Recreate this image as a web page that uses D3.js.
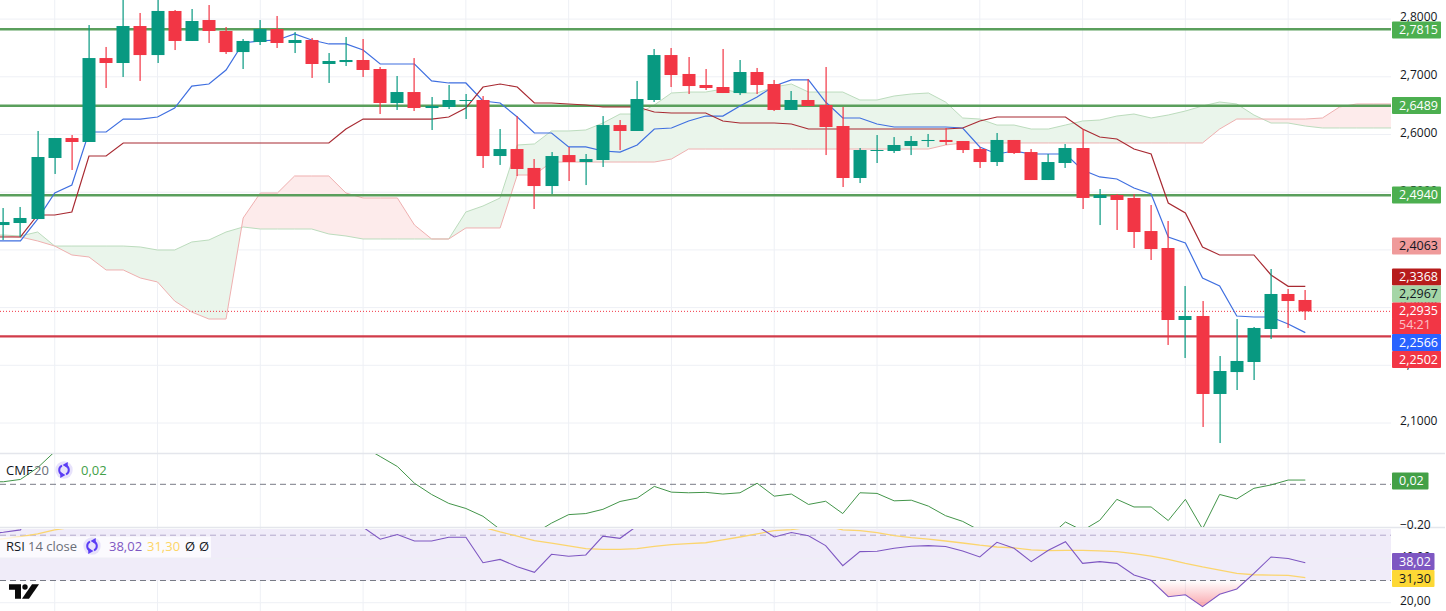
<!DOCTYPE html>
<html>
<head>
<meta charset="utf-8">
<script src="https://d3js.org/d3.v7.min.js"></script>
<style>
  html, body { margin: 0; padding: 0; background: #fff; overflow: hidden; }
  svg { display: block; }
  text { font-family: "Open Sans", sans-serif; }
  .axis text { font-size: 12px; fill: #131722; }
  .axis .domain { display: none; }
  .tag text { font-size: 12.5px; font-weight: 500; }
  .legend text { font-size: 13px; }
</style>
</head>
<body>
<div id="chart"></div>
<script>
// hourly candles, first bar is just off the left edge
var open = [2.4396,
  2.4431, 2.4466, 2.4535, 2.5593, 2.5939, 2.5870, 2.7325, 2.7239, 2.7880, 2.7377,
  2.8141, 2.7621, 2.7984, 2.7794, 2.7429, 2.7603, 2.7828, 2.7586, 2.7638, 2.7222,
  2.7256, 2.7291, 2.7135, 2.6546, 2.6736, 2.6459, 2.6477, 2.6581, 2.6598, 2.5627,
  2.5748, 2.5420, 2.5107, 2.5644, 2.5523, 2.5558, 2.6164, 2.6061, 2.6598, 2.7377,
  2.7049, 2.6858, 2.6823, 2.6719, 2.7083, 2.6875, 2.6425, 2.6598, 2.6511, 2.6147,
  2.5246, 2.5714, 2.5714, 2.5801, 2.5887, 2.5905, 2.5887, 2.5748, 2.5523, 2.5905,
  2.5696, 2.5211, 2.5506, 2.5766, 2.4900, 2.4952, 2.4900, 2.4327, 2.4033, 2.2785,
  2.2854, 2.1503, 2.1883, 2.2057, 2.2629, 2.3236, 2.3132];
var close = [2.4483,
  2.4483, 2.4553, 2.5610, 2.5939, 2.5870, 2.7325, 2.7239, 2.7880, 2.7377, 2.8141,
  2.7621, 2.7967, 2.7794, 2.7429, 2.7621, 2.7828, 2.7586, 2.7638, 2.7222, 2.7274,
  2.7291, 2.7118, 2.6546, 2.6736, 2.6459, 2.6494, 2.6598, 2.6598, 2.5627, 2.5748,
  2.5402, 2.5107, 2.5627, 2.5523, 2.5575, 2.6164, 2.6061, 2.6615, 2.7377, 2.7031,
  2.6840, 2.6806, 2.6719, 2.7083, 2.6858, 2.6425, 2.6598, 2.6494, 2.6130, 2.5246,
  2.5731, 2.5731, 2.5818, 2.5887, 2.5905, 2.5870, 2.5731, 2.5523, 2.5905, 2.5679,
  2.5211, 2.5523, 2.5766, 2.4900, 2.4952, 2.4865, 2.4310, 2.4015, 2.2785, 2.2854,
  2.1503, 2.1901, 2.2075, 2.2647, 2.3236, 2.3114, 2.2935];
var high = [2.4570,
  2.4726, 2.4744, 2.6061, 2.5939, 2.5991, 2.7897, 2.7517, 2.8435, 2.8106, 2.8470,
  2.8158, 2.8175, 2.8244, 2.7863, 2.7655, 2.7984, 2.8054, 2.7776, 2.7673, 2.7412,
  2.7690, 2.7655, 2.7170, 2.7014, 2.7325, 2.6650, 2.6858, 2.6702, 2.6667, 2.6095,
  2.6320, 2.5575, 2.5696, 2.5784, 2.5662, 2.6320, 2.6251, 2.6928, 2.7482, 2.7499,
  2.7343, 2.7135, 2.7482, 2.7291, 2.7153, 2.6945, 2.6754, 2.6962, 2.7170, 2.6477,
  2.5766, 2.5991, 2.5956, 2.5974, 2.6009, 2.6113, 2.5887, 2.5784, 2.6026, 2.5905,
  2.5748, 2.5662, 2.5836, 2.6095, 2.5055, 2.4969, 2.4969, 2.4778, 2.4501, 2.3374,
  2.3114, 2.2161, 2.2802, 2.2664, 2.3669, 2.3322, 2.3305];
var low = [2.4120,
  2.4172, 2.4224, 2.4535, 2.5316, 2.5385, 2.5870, 2.6806, 2.6997, 2.6928, 2.7239,
  2.7464, 2.7621, 2.7586, 2.7395, 2.7135, 2.7551, 2.7499, 2.7412, 2.6980, 2.6893,
  2.7187, 2.6997, 2.6355, 2.6425, 2.6407, 2.6078, 2.6442, 2.6268, 2.5420, 2.5472,
  2.5281, 2.4709, 2.4969, 2.5194, 2.5124, 2.5437, 2.5731, 2.6061, 2.6563, 2.6823,
  2.6702, 2.6771, 2.6719, 2.6684, 2.6702, 2.6407, 2.6425, 2.6494, 2.5644, 2.5090,
  2.5159, 2.5506, 2.5679, 2.5644, 2.5784, 2.5818, 2.5679, 2.5420, 2.5454, 2.5662,
  2.5211, 2.5211, 2.5420, 2.4709, 2.4431, 2.4345, 2.4033, 2.3825, 2.2352, 2.2127,
  2.0931, 2.0653, 2.1572, 2.1745, 2.2456, 2.2647, 2.2785];

var tenkan = [2.4155,
  2.4155, 2.4155, 2.4535, 2.4986, 2.5124, 2.6043, 2.6043, 2.6268, 2.6268, 2.6303,
  2.6459, 2.6840, 2.6875, 2.7118, 2.7586, 2.7621, 2.7638, 2.7742, 2.7638, 2.7569,
  2.7569, 2.7464, 2.7222, 2.7222, 2.7222, 2.6928, 2.6893, 2.6893, 2.6581, 2.6546,
  2.6303, 2.6026, 2.6026, 2.5784, 2.5784, 2.5714, 2.5696, 2.5818, 2.6095, 2.6113,
  2.6234, 2.6320, 2.6320, 2.6494, 2.6650, 2.6840, 2.6945, 2.6945, 2.6563, 2.6286,
  2.6286, 2.6182, 2.6130, 2.6130, 2.6130, 2.6130, 2.6113, 2.5784, 2.5662, 2.5714,
  2.5662, 2.5662, 2.5662, 2.5385, 2.5264, 2.5229, 2.5073, 2.4969, 2.4224, 2.4120,
  2.3513, 2.3374, 2.2854, 2.2837, 2.2837, 2.2716, 2.2566];
var kijun = [2.4224,
  2.4224, 2.4224, 2.4605, 2.4605, 2.4657, 2.5627, 2.5627, 2.5853, 2.5853, 2.5853,
  2.5853, 2.5853, 2.5853, 2.5853, 2.5853, 2.5853, 2.5853, 2.5853, 2.5853, 2.5853,
  2.6095, 2.6268, 2.6268, 2.6268, 2.6268, 2.6268, 2.6303, 2.6459, 2.6823, 2.6875,
  2.6823, 2.6546, 2.6546, 2.6529, 2.6511, 2.6477, 2.6477, 2.6477, 2.6390, 2.6373,
  2.6373, 2.6373, 2.6234, 2.6199, 2.6199, 2.6199, 2.6182, 2.6095, 2.6095, 2.6095,
  2.6095, 2.6095, 2.6095, 2.6095, 2.6095, 2.6095, 2.6113, 2.6234, 2.6303, 2.6303,
  2.6303, 2.6303, 2.6303, 2.6095, 2.5956, 2.5922, 2.5748, 2.5662, 2.4813, 2.4640,
  2.4050, 2.3912, 2.3912, 2.3912, 2.3565, 2.3368, 2.3368];
// cloud runs on past the last candle
var spanA = [2.4258,
  2.4258, 2.4241, 2.4310, 2.4067, 2.4067, 2.4067, 2.4067, 2.4067, 2.4050, 2.3998,
  2.3998, 2.4137, 2.4172, 2.4310, 2.4397, 2.4362, 2.4362, 2.4362, 2.4362, 2.4276,
  2.4241, 2.4189, 2.4189, 2.4189, 2.4189, 2.4189, 2.4189, 2.4657, 2.4761, 2.4900,
  2.5818, 2.5836, 2.6061, 2.6061, 2.6078, 2.6199, 2.6355, 2.6355, 2.6511, 2.6719,
  2.6736, 2.6736, 2.6788, 2.6719, 2.6719, 2.6823, 2.6875, 2.6736, 2.6736, 2.6736,
  2.6598, 2.6598, 2.6667, 2.6702, 2.6719, 2.6563, 2.6286, 2.6268, 2.6164, 2.6164,
  2.6095, 2.6095, 2.6164, 2.6234, 2.6251, 2.6320, 2.6355, 2.6286, 2.6338, 2.6407,
  2.6494, 2.6563, 2.6529, 2.6338, 2.6199, 2.6199, 2.6147,
  2.6113, 2.6113, 2.6113, 2.6113, 2.6113, 2.6113];
var spanB = [2.4241,
  2.4241, 2.4224, 2.4155, 2.4067, 2.3912, 2.3877, 2.3652, 2.3652, 2.3513, 2.3444,
  2.3114, 2.2923, 2.2802, 2.2802, 2.4553, 2.4986, 2.4986, 2.5281, 2.5281, 2.5281,
  2.4986, 2.4900, 2.4900, 2.4900, 2.4431, 2.4189, 2.4189, 2.4380, 2.4380, 2.4380,
  2.5298, 2.5298, 2.5523, 2.5523, 2.5523, 2.5523, 2.5523, 2.5523, 2.5523, 2.5575,
  2.5748, 2.5748, 2.5748, 2.5748, 2.5748, 2.5748, 2.5748, 2.5748, 2.5748, 2.5748,
  2.5748, 2.5748, 2.5748, 2.5748, 2.5748, 2.5818, 2.5853, 2.5853, 2.5853, 2.5853,
  2.5853, 2.5853, 2.5853, 2.5853, 2.5853, 2.5853, 2.5853, 2.5853, 2.5853, 2.5853,
  2.5853, 2.6095, 2.6268, 2.6268, 2.6268, 2.6268, 2.6268,
  2.6286, 2.6477, 2.6529, 2.6529, 2.6529, 2.6529];

// CMF 20 (off-pane values are estimates)
var cmf = [0.012,
  0.012, 0.023, 0.078, 0.154, 0.2, 0.22, 0.24, 0.26, 0.27, 0.27,
  0.26, 0.26, 0.25, 0.25, 0.24, 0.24, 0.23, 0.23, 0.22, 0.2,
  0.19, 0.178, 0.131, 0.084, 0.005, -0.048, -0.09, -0.114, -0.151, -0.213,
  -0.246, -0.232, -0.183, -0.143, -0.138, -0.118, -0.081, -0.065, -0.01, -0.037,
  -0.04, -0.038, -0.046, -0.04, 0.005, -0.056, -0.046, -0.095, -0.08, -0.138,
  -0.04, -0.043, -0.078, -0.075, -0.103, -0.148, -0.175, -0.218, -0.25, -0.26,
  -0.26, -0.25, -0.178, -0.218, -0.17, -0.071, -0.107, -0.107, -0.171, -0.071,
  -0.21, -0.048, -0.069, -0.019, -0.003, 0.02, 0.02];

// RSI 14 close and its moving average
var rsi = [51,
  51.7, 52.8, 66, 66, 64, 78, 76, 80, 76, 78,
  72, 72, 70, 65, 64, 66, 66, 64, 58, 57,
  57, 54, 48.6, 50.7, 47.8, 47.8, 49.5, 49.5, 38, 39.5,
  36.2, 33.7, 41.8, 40.9, 41.5, 50, 49, 54.6, 68, 64,
  62, 60, 58, 60, 54.6, 49.6, 51.6, 50.2, 45.7, 36.7,
  43, 43.2, 44.5, 45.4, 45.7, 45.3, 43.3, 40.6, 47.2, 44.5,
  38.5, 43.6, 47.5, 37.7, 38.5, 37.7, 32.5, 30.1, 22.7, 23.6,
  18.2, 23.8, 26.2, 33.2, 40.6, 39.9, 38.02];
var rsiMa = [48,
  48.8, 49.8, 51, 52.8, 54, 55, 56, 57, 58, 60,
  61, 62, 63, 64, 65, 65, 66, 66, 66, 65,
  64, 63, 62, 61, 60, 59, 57, 56, 54, 51.9,
  50, 48, 46.8, 45.6, 44.4, 44, 44, 44.4, 45.4, 46.2,
  46.6, 47, 48.3, 49.6, 51, 52.5, 52.9, 54, 54.6, 52.8,
  52.5, 51.6, 50.2, 49.3, 48.6, 47.8, 46.9, 45.9, 45.1, 44.7,
  43.8, 43.5, 43.6, 43.6, 43.3, 43, 42.1, 41, 39.5, 37.7,
  36.1, 34.7, 33.2, 32.6, 32.4, 32.3, 31.3];

var supportLevels = [2.7815, 2.6489, 2.4940];
var redLevel = 2.2502;
var lastPrice = 2.2935;
var priceTicks = [2.8, 2.7, 2.6, 2.5, 2.4, 2.3, 2.2, 2.1];
var cmfTicks = [-0.2];
var rsiTicks = [40, 20];
var rsiBands = [50.4, 30];
var tagValues = [2.7815, 2.6489, 2.4940, 2.4063, 2.3368, 2.2967, 2.2935, 2.2566, 2.2502];
var countdown = "54:21";

var width = 1446, height = 611;
var plotRight = 1391;

var x = d3.scaleLinear().domain([0, 77]).range([-13.8, 1305.3]);
var y = d3.scaleLinear().domain([2.6, 2.1]).range([134.5, 423]);
var yCmf = d3.scaleLinear().domain([0, -0.2]).range([484.3, 526.7]);
var yRsi = d3.scaleLinear().domain([40, 20]).range([558.3, 602.7]);

var comma = d3.formatLocale({ decimal: ",", thousands: ".", grouping: [3], currency: ["", ""], minus: "\u2212" });
var fmt4 = comma.format(".4f"), fmt2 = comma.format(".2f");

var svg = d3.select("#chart").append("svg")
  .attr("width", width)
  .attr("height", height);

var defs = svg.append("defs");

function clipRect(id, top, bottom) {
  defs.append("clipPath").attr("id", id).append("rect")
    .attr("x", 0).attr("y", top).attr("width", plotRight).attr("height", bottom - top);
}
clipRect("clip-main", 0, 453);
clipRect("clip-cmf", 454, 527);
clipRect("clip-rsi", 529, height);
clipRect("clip-oversold", yRsi(30), height);

// grid
svg.append("g").selectAll("line")
  .data(d3.range(4, 78, 6))
  .join("line")
  .attr("x1", function (d) { return x(d); })
  .attr("x2", function (d) { return x(d); })
  .attr("y1", 0).attr("y2", height)
  .attr("stroke", "#eef0f5");
var rsiBandG = svg.append("g");
svg.append("g").selectAll("line")
  .data(priceTicks.map(y).concat(rsiTicks.map(yRsi)))
  .join("line")
  .attr("x1", 0).attr("x2", plotRight)
  .attr("y1", function (d) { return d; })
  .attr("y2", function (d) { return d; })
  .attr("stroke", "#eef0f5");

// pane separators
svg.append("g").selectAll("line")
  .data([453.5, 527.5])
  .join("line")
  .attr("x1", 0).attr("x2", 1445)
  .attr("y1", function (d) { return d; })
  .attr("y2", function (d) { return d; })
  .attr("stroke", "#e4e6ec")
  .attr("stroke-width", 1.3);

// ichimoku cloud: green where A is above B, red where below
var main = svg.append("g").attr("clip-path", "url(#clip-main)");
var idx = d3.range(spanA.length);
var aLine = function (i) { return y(spanA[i]); };
var bLine = function (i) { return y(spanB[i]); };
var cx = function (i) { return x(i); };

defs.append("clipPath").attr("id", "below-a").append("path")
  .attr("d", d3.area().x(cx).y0(height).y1(aLine)(idx));
defs.append("clipPath").attr("id", "above-a").append("path")
  .attr("d", d3.area().x(cx).y0(0).y1(aLine)(idx));

main.append("g").attr("clip-path", "url(#below-a)").append("path")
  .attr("d", d3.area().x(cx).y0(0).y1(bLine)(idx))
  .attr("fill", "#eaf5eb");
main.append("g").attr("clip-path", "url(#above-a)").append("path")
  .attr("d", d3.area().x(cx).y0(height).y1(bLine)(idx))
  .attr("fill", "#fdebeb");
main.append("path")
  .attr("d", d3.line().x(cx).y(aLine)(idx))
  .attr("fill", "none").attr("stroke", "#bcdcbd");
main.append("path")
  .attr("d", d3.line().x(cx).y(bLine)(idx))
  .attr("fill", "none").attr("stroke", "#efb0b0");

// levels
main.selectAll(".level")
  .data(supportLevels)
  .join("line")
  .attr("class", "level")
  .attr("x1", 0).attr("x2", plotRight)
  .attr("y1", function (d) { return y(d) - 0.5; })
  .attr("y2", function (d) { return y(d) - 0.5; })
  .attr("stroke", "#5a9f5c")
  .attr("stroke-width", 2.5);
main.append("line")
  .attr("x1", 0).attr("x2", plotRight)
  .attr("y1", y(redLevel)).attr("y2", y(redLevel))
  .attr("stroke", "#d13b4a")
  .attr("stroke-width", 2.2);
main.append("line")
  .attr("x1", 0).attr("x2", plotRight)
  .attr("y1", y(lastPrice)).attr("y2", y(lastPrice))
  .attr("stroke", "#f23645")
  .attr("stroke-dasharray", "1 2");

// conversion and base lines
function priceLine(values, color) {
  main.append("path")
    .attr("d", d3.line().x(function (d, i) { return x(i); }).y(function (d) { return y(d); })(values))
    .attr("fill", "none")
    .attr("stroke", color)
    .attr("stroke-width", 1.2);
}
priceLine(tenkan, "#3f6fe0");
priceLine(kijun, "#a82a32");

// candles
var candle = main.selectAll(".candle")
  .data(d3.range(open.length))
  .join("g")
  .attr("class", "candle")
  .attr("fill", function (i) { return close[i] >= open[i] ? "#089981" : "#f23645"; });
candle.append("rect")
  .attr("x", function (i) { return Math.round(x(i)) - 0.5; })
  .attr("width", 1.2)
  .attr("y", function (i) { return y(high[i]); })
  .attr("height", function (i) { return y(low[i]) - y(high[i]); });
candle.append("rect")
  .attr("x", function (i) { return Math.round(x(i)) - 6.5; })
  .attr("width", 13)
  .attr("y", function (i) { return y(Math.max(open[i], close[i])); })
  .attr("height", function (i) { return Math.abs(y(open[i]) - y(close[i])); });

// CMF pane
svg.append("line")
  .attr("x1", 0).attr("x2", plotRight)
  .attr("y1", yCmf(0)).attr("y2", yCmf(0))
  .attr("stroke", "#787b86")
  .attr("stroke-dasharray", "6 4");
svg.append("g").attr("clip-path", "url(#clip-cmf)").append("path")
  .attr("d", d3.line().x(function (d, i) { return x(i); }).y(function (d) { return yCmf(d); })(cmf))
  .attr("fill", "none")
  .attr("stroke", "#43954a")
  .attr("stroke-width", 1);

// RSI pane
rsiBandG.append("rect")
  .attr("x", 0).attr("y", 529)
  .attr("width", plotRight)
  .attr("height", yRsi(rsiBands[1]) - 529)
  .attr("fill", "#f0ecf9");
svg.selectAll(".band")
  .data(rsiBands)
  .join("line")
  .attr("class", "band")
  .attr("x1", 0).attr("x2", plotRight)
  .attr("y1", function (d) { return yRsi(d); })
  .attr("y2", function (d) { return yRsi(d); })
  .attr("stroke", function (d, i) { return i ? "#787b86" : "#b3a9cc"; })
  .attr("stroke-dasharray", "6 4");

var grad = defs.append("linearGradient").attr("id", "oversold")
  .attr("gradientUnits", "userSpaceOnUse")
  .attr("x1", 0).attr("x2", 0)
  .attr("y1", yRsi(30)).attr("y2", yRsi(18));
grad.append("stop").attr("offset", 0).attr("stop-color", "#f23645").attr("stop-opacity", 0);
grad.append("stop").attr("offset", 1).attr("stop-color", "#f23645").attr("stop-opacity", 0.45);

var rsiG = svg.append("g").attr("clip-path", "url(#clip-rsi)");
rsiG.append("g").attr("clip-path", "url(#clip-oversold)").append("path")
  .attr("d", d3.area().x(function (d, i) { return x(i); }).y0(yRsi(30)).y1(function (d) { return yRsi(d); })(rsi))
  .attr("fill", "url(#oversold)");
rsiG.append("path")
  .attr("d", d3.line().x(function (d, i) { return x(i); }).y(function (d) { return yRsi(d); })(rsiMa))
  .attr("fill", "none")
  .attr("stroke", "#fbd56e")
  .attr("stroke-width", 1.3);
rsiG.append("path")
  .attr("d", d3.line().x(function (d, i) { return x(i); }).y(function (d) { return yRsi(d); })(rsi))
  .attr("fill", "none")
  .attr("stroke", "#7e57c2")
  .attr("stroke-width", 1.1);

// right axes, the tags go on top of them
function rightAxis(scale, ticks, format) {
  var g = svg.append("g")
    .attr("class", "axis")
    .attr("transform", "translate(" + plotRight + ",-2)")
    .call(d3.axisRight(scale).tickValues(ticks).tickSize(0).tickPadding(9).tickFormat(format));
  g.select(".domain").remove();
}
rightAxis(y, priceTicks, fmt4);
rightAxis(yCmf, cmfTicks, d3.format(".2f"));
rightAxis(yRsi, rsiTicks, fmt2);

// tag styles, displaced ones do not sit on their own price
var tagStyles = [
  { y: 30, bg: "#4caf50", fg: "#fff" },
  { y: 105.5, bg: "#4caf50", fg: "#fff" },
  { y: 195, bg: "#4caf50", fg: "#fff" },
  { y: 246, bg: "#ef9a9a", fg: "#131722" },
  { y: 277, bg: "#b71c1c", fg: "#fff" },
  { y: 294, bg: "#a5d6a7", fg: "#131722" },
  { y: 311, bg: "#f23645", fg: "#fff" },
  { y: 342.5, bg: "#2962ff", fg: "#fff" },
  { y: 359.5, bg: "#f23645", fg: "#fff" }
];
function drawTag(label, top, h, w, bg, fg) {
  var g = svg.append("g").attr("class", "tag");
  g.append("rect")
    .attr("x", 1392).attr("y", top)
    .attr("width", w).attr("height", h)
    .attr("rx", 1)
    .attr("fill", bg);
  g.append("text")
    .attr("x", 1399).attr("y", top + 8.5)
    .attr("dy", "0.35em")
    .attr("fill", fg)
    .text(label);
  return g;
}
tagValues.forEach(function (v, i) {
  var s = tagStyles[i];
  drawTag(fmt4(v), s.y - 8.5, 17, 49, s.bg, s.fg);
});
// countdown under the last price
var cd = svg.append("g").attr("class", "tag");
cd.append("rect")
  .attr("x", 1392).attr("y", 319)
  .attr("width", 49).attr("height", 15)
  .attr("fill", "#f23645");
cd.append("text")
  .attr("x", 1399).attr("y", 325)
  .attr("dy", "0.35em")
  .attr("fill", "#fbc2c7")
  .text(countdown);
drawTag(fmt2(cmf[cmf.length - 1]), 472.5, 17, 36.5, "#43a047", "#fff");
drawTag(fmt2(rsi[rsi.length - 1]), 553, 17, 42.5, "#7e57c2", "#fff");
drawTag(fmt2(rsiMa[rsiMa.length - 1]), 570, 17, 42.5, "#fdd835", "#131722");

// legend icon, the two-arrow circle
function reloadIcon(parent, cxv, cyv) {
  var g = parent.append("g").attr("transform", "translate(" + cxv + "," + cyv + ")");
  g.append("circle").attr("r", 8.7).attr("fill", "#e7e2fb");
  var arc = d3.arc().innerRadius(3.8).outerRadius(5.8);
  g.append("path").attr("d", arc({ startAngle: 0.35, endAngle: 2.7 })).attr("fill", "#5b3df5");
  g.append("path").attr("d", arc({ startAngle: 3.5, endAngle: 5.85 })).attr("fill", "#5b3df5");
  g.append("path").attr("d", d3.symbol(d3.symbolTriangle, 16)()).attr("transform", "translate(2,-5) rotate(-90)").attr("fill", "#5b3df5");
  g.append("path").attr("d", d3.symbol(d3.symbolTriangle, 16)()).attr("transform", "translate(-2,5) rotate(90)").attr("fill", "#5b3df5");
}

function legendText(g, px, py, str, color) {
  g.append("text").attr("x", px).attr("y", py).attr("dy", "0.35em").attr("fill", color).text(str);
}

var legend = svg.append("g").attr("class", "legend");
legendText(legend, 6, 470.5, "CMF", "#131722");
legendText(legend, 34, 470.5, "20", "#6a6d78");
reloadIcon(legend, 64, 470);
legendText(legend, 81, 470.5, fmt2(cmf[cmf.length - 1]), "#43a047");

legend.append("rect")
  .attr("x", 0).attr("y", 536.5)
  .attr("width", 211).attr("height", 21)
  .attr("fill", "#fff")
  .attr("fill-opacity", 0.75);
legendText(legend, 6, 546.5, "RSI", "#131722");
legendText(legend, 28, 546.5, "14 close", "#6a6d78");
reloadIcon(legend, 92, 546);
legendText(legend, 109, 546.5, fmt2(rsi[rsi.length - 1]), "#7e57c2");
legendText(legend, 147, 546.5, fmt2(rsiMa[rsiMa.length - 1]), "#fdd564");
legendText(legend, 185, 546.5, "\u00d8", "#131722");
legendText(legend, 199, 546.5, "\u00d8", "#131722");

// logo
var logo = svg.append("g").attr("fill", "#0b0b0b");
logo.append("path").attr("d", "M9 584.3H21V598.7H15V589.7H9Z");
logo.append("circle").attr("cx", 25).attr("cy", 587).attr("r", 2.7);
logo.append("path").attr("d", "M32 584.3H39L29 598.7H22Z");
</script>
</body>
</html>
